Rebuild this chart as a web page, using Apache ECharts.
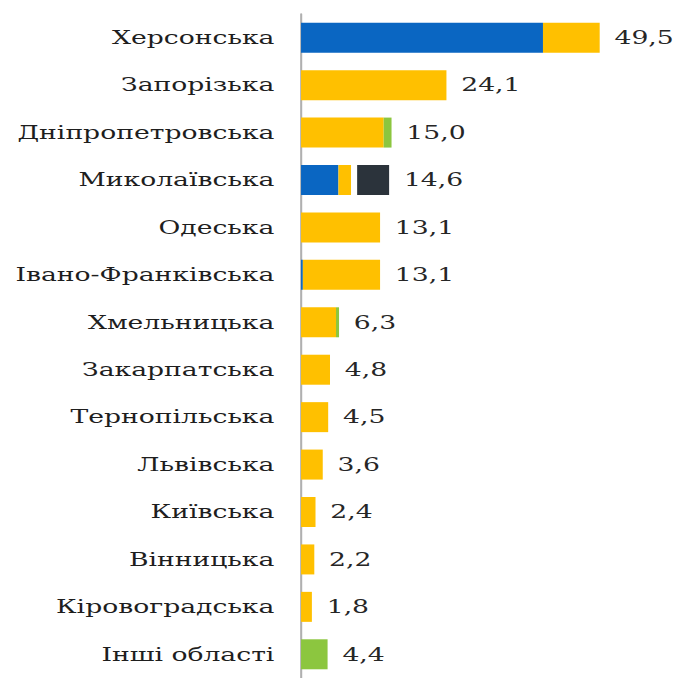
<!DOCTYPE html>
<html>
<head>
<meta charset="utf-8">
<script src="https://cdn.jsdelivr.net/npm/echarts@6/dist/echarts.min.js"></script>
<style>
  html, body { margin: 0; padding: 0; background: #fff; overflow: hidden; }
  #wrap { width: 675px; height: 678px; overflow: hidden; }
  /* the chart is laid out narrow and widened, giving the broad lettering */
  #chart { width: 456px; height: 678px; transform: scaleX(1.48); transform-origin: 0 0; }
</style>
</head>
<body>
<div id="wrap"><div id="chart"></div></div>
<script>
// Regions, top to bottom
const regions = [
  'Херсонська', 'Запорізька', 'Дніпропетровська', 'Миколаївська', 'Одеська',
  'Івано-Франківська', 'Хмельницька', 'Закарпатська', 'Тернопільська', 'Львівська',
  'Київська', 'Вінницька', 'Кіровоградська', 'Інші області'
];

// Stacked segments per region
const blueVals   = [40.1, 0,    0,    6.2, 0,    0.3,  0,   0,   0,   0,   0,   0,   0,   0  ];
const yellowVals = [9.4,  24.1, 13.7, 2.1, 13.1, 12.8, 5.8, 4.8, 4.5, 3.6, 2.4, 2.2, 1.8, 0  ];
const gapVals    = [0,    0,    0,    1.0, 0,    0,    0,   0,   0,   0,   0,   0,   0,   0  ];
const darkVals   = [0,    0,    0,    5.3, 0,    0,    0,   0,   0,   0,   0,   0,   0,   0  ];
const greenVals  = [0,    0,    1.3,  0,   0,    0,    0.5, 0,   0,   0,   0,   0,   0,   4.4];

const totals = regions.map((_, i) =>
  Math.round((blueVals[i] + yellowVals[i] + gapVals[i] + darkVals[i] + greenVals[i]) * 10) / 10);

const FONT = 'DejaVu Serif';

function seg(name, data, color) {
  return {
    name, type: 'bar', stack: 'total', data,
    barWidth: 30,
    itemStyle: { color },
    emphasis: { disabled: true },
    silent: true
  };
}

const chart = echarts.init(document.getElementById('chart'), null, { renderer: 'svg' });
chart.setOption({
  animation: false,
  backgroundColor: '#ffffff',
  grid: { left: 203.4, top: 14, width: 244.6, height: 667 },
  xAxis: {
    type: 'value', min: 0, max: 60,
    axisLine: { show: false }, axisTick: { show: false },
    axisLabel: { show: false }, splitLine: { show: false }
  },
  yAxis: {
    type: 'category', data: regions, inverse: true,
    axisLine: { show: true, lineStyle: { color: '#b0b0b0', width: 1.4 } },
    axisTick: { show: false },
    axisLabel: { margin: 18, fontFamily: FONT, fontSize: 18, color: '#1e1e1e' }
  },
  series: [
    seg('blue', blueVals, '#0a66c2'),
    seg('yellow', yellowVals, '#ffc000'),
    seg('gap', gapVals, '#ffffff'),
    seg('dark', darkVals, '#2b333b'),
    seg('green', greenVals, '#8cc63f'),
    {
      name: 'total', type: 'bar', stack: 'total', barWidth: 30,
      data: regions.map(() => 0),
      silent: true,
      label: {
        show: true, position: 'right', distance: 10,
        fontFamily: FONT, fontSize: 18, color: '#262626',
        formatter: p => totals[p.dataIndex].toFixed(1).replace('.', ',')
      }
    }
  ]
});
</script>
</body>
</html>
